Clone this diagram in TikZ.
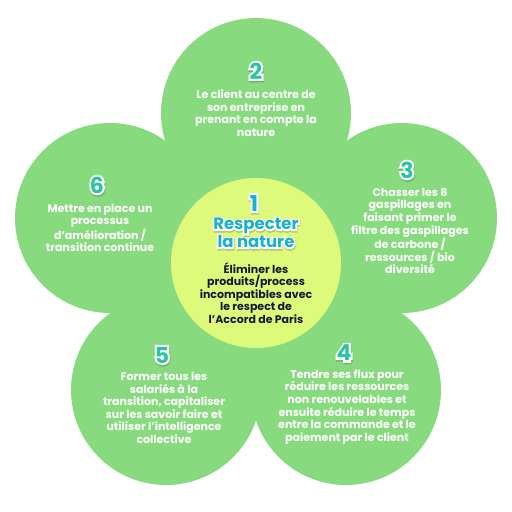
\documentclass[tikz,border=0pt]{standalone}
\usepackage{fontspec}
\setmainfont{Poppins}[BoldFont={Poppins Bold}]
\definecolor{petalgreen}{RGB}{135,219,126}
\definecolor{coreyellow}{RGB}{222,250,122}
\definecolor{numteal}{RGB}{44,196,163}
\definecolor{titleblue}{RGB}{26,176,206}
\definecolor{coretext}{RGB}{22,26,48}
\newcommand\outlinedtext[6]{% name, position, style, outline style, color, text
  \node[#4, text=black, opacity=0.2, xshift=0.5pt, yshift=-1.5pt] at #2 {#6};
  \node[#4, text=white] at #2 {#6};
  \node[#3, text=#5] (#1) at #2 {#6};
}
\tikzset{
  petal/.style={circle, fill=petalgreen, minimum size=190pt, inner sep=0pt},
  core/.style={circle, fill=coreyellow, minimum size=170pt, inner sep=0pt},
  body/.style={text=white, font=\bfseries\fontsize{11}{12.6}\selectfont, align=center, inner sep=0pt},
  corebody/.style={body, text=coretext},
  numst/.style={font=\bfseries\fontsize{22}{22}\selectfont, inner sep=0pt},
  numout/.style={font=\bfseries\fontsize{22}{22}\selectfont\addfontfeatures{FakeBold=18}, inner sep=0pt},
  titlest/.style={font=\bfseries\fontsize{16.5}{18}\selectfont, inner sep=0pt, align=center},
  titleout/.style={font=\bfseries\fontsize{16.5}{18}\selectfont\addfontfeatures{FakeBold=18}, inner sep=0pt, align=center},
}
\begin{document}
\begin{tikzpicture}[x=1pt,y=-1pt]
\useasboundingbox (0,0) rectangle (512,512);
% petals
\node[petal] (p2) at (256,113) {};
\node[petal] (p3) at (402,218) {};
\node[petal] (p4) at (346,390) {};
\node[petal] (p5) at (166,390) {};
\node[petal] (p6) at (110,218) {};
\node[circle, fill=petalgreen, minimum size=230pt, inner sep=0pt] (fill) at (256,263) {};
% core
\node[core] (p1) at (256,263) {};
% numbers
\outlinedtext{n2}{(256,71)}{numst}{numout}{numteal}{2}
\outlinedtext{n3}{(407,170)}{numst}{numout}{numteal}{3}
\outlinedtext{n4}{(344,353)}{numst}{numout}{numteal}{4}
\outlinedtext{n5}{(162,355)}{numst}{numout}{numteal}{5}
\outlinedtext{n6}{(97,185)}{numst}{numout}{numteal}{6}
\outlinedtext{n1}{(254,203)}{numst}{numout}{titleblue}{1}
\outlinedtext{t1}{(256,233)}{titlest}{titleout}{titleblue}{Respecter\\la nature}
% texts
\node[body] (b2) at (256,113) {Le client au centre de\\son entreprise en\\prenant en compte la\\nature};
\node[body] (b3) at (410,231) {Chasser les 8\\gaspillages en\\faisant primer le\\filtre des gaspillages\\de carbone /\\ressources / bio\\diversité};
\node[body] (b4) at (347,407) {Tendre ses flux pour\\réduire les ressources\\non renouvelables et\\ensuite réduire le temps\\entre la commande et le\\paiement par le client};
\node[body] (b5) at (164,408) {Former tous les\\salariés à la\\transition, capitaliser\\sur les savoir faire et\\utiliser l’intelligence\\collective};
\node[body] (b6) at (100,228) {Mettre en place un\\processus\\d’amélioration /\\transition continue};
\node[corebody] (b1) at (256,293) {Éliminer les\\produits/process\\incompatibles avec\\le respect de\\l’Accord de Paris};
\end{tikzpicture}
\end{document}
